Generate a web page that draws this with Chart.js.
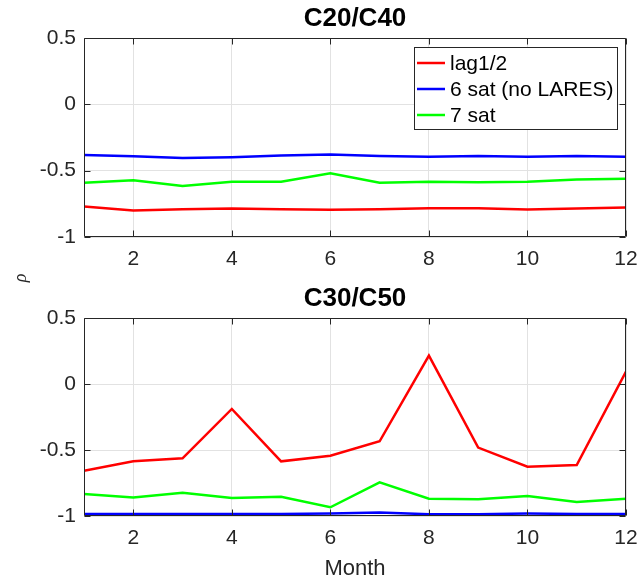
<!DOCTYPE html>
<html>
<head>
<meta charset="utf-8">
<script src="https://cdn.jsdelivr.net/npm/chart.js@4.4.0/dist/chart.umd.min.js"></script>
<style>
html,body{margin:0;padding:0;background:#ffffff;}
#wrap{position:relative;width:638px;height:582px;overflow:hidden;}
#box1{position:absolute;left:0;top:0;width:638px;height:280px;}
#box2{position:absolute;left:0;top:280px;width:638px;height:302px;}
#rho{position:absolute;left:10px;top:267px;width:20px;height:22px;line-height:22px;text-align:center;
  font-family:"Liberation Serif","Times New Roman",serif;font-style:italic;font-size:18px;color:#262626;
  transform:rotate(-90deg);}
</style>
</head>
<body>
<div id="wrap">
  <div id="box1"><canvas id="c1" width="638" height="280"></canvas></div>
  <div id="box2"><canvas id="c2" width="638" height="302"></canvas></div>
  <div id="rho">ρ</div>
</div>
<script>
// ---- data ----
const months = [1,2,3,4,5,6,7,8,9,10,11,12];
const xTicks = [2,4,6,8,10,12];
const yTicks = [-1,-0.5,0,0.5];
const seriesNames = ['lag1/2','6 sat (no LARES)','7 sat'];
const seriesColors = ['#ff0000','#0000ff','#00ff00'];
const titles = ['C20/C40','C30/C50'];
const xLabel = 'Month';
const yLabel = 'ρ';

const c20lag   = [-0.770,-0.800,-0.790,-0.785,-0.790,-0.795,-0.790,-0.783,-0.783,-0.793,-0.785,-0.778];
const c20six   = [-0.381,-0.391,-0.404,-0.399,-0.386,-0.379,-0.389,-0.396,-0.389,-0.396,-0.389,-0.396];
const c20seven = [-0.591,-0.573,-0.616,-0.583,-0.583,-0.520,-0.591,-0.583,-0.588,-0.583,-0.566,-0.561];

const c30lag   = [-0.657,-0.586,-0.563,-0.189,-0.586,-0.543,-0.434,0.215,-0.482,-0.626,-0.614,0.095];
const c30six   = [-0.985,-0.985,-0.984,-0.984,-0.984,-0.981,-0.973,-0.987,-0.986,-0.981,-0.984,-0.985];
const c30seven = [-0.833,-0.859,-0.823,-0.864,-0.854,-0.934,-0.745,-0.869,-0.874,-0.848,-0.894,-0.869];

// ---- styling ----
const FONT = '"Liberation Sans", Arial, Helvetica, sans-serif';
const AXC = '#262626';
const GRIDC = '#e2e2e2';

const boxPlugin = {
  id: 'boxPlugin',
  afterDatasetsDraw(chart) {
    const {ctx, chartArea: a, scales} = chart;
    ctx.save();
    ctx.strokeStyle = AXC;
    ctx.lineWidth = 1;
    const L = Math.round(a.left) + 0.5, R = Math.round(a.right) - 0.5;
    const T = Math.round(a.top) + 0.5, B = Math.round(a.bottom) - 0.5;
    ctx.beginPath();
    ctx.rect(L, T, R - L, B - T);
    const tl = 6;
    xTicks.forEach(v => {
      const px = Math.round(scales.x.getPixelForValue(v)) + 0.5;
      ctx.moveTo(px, B); ctx.lineTo(px, B - tl);
      ctx.moveTo(px, T); ctx.lineTo(px, T + tl);
    });
    yTicks.forEach(v => {
      const py = Math.round(scales.y.getPixelForValue(v)) + 0.5;
      ctx.moveTo(L, py); ctx.lineTo(L + tl, py);
      ctx.moveTo(R, py); ctx.lineTo(R - tl, py);
    });
    ctx.stroke();
    ctx.restore();
  }
};

const legendPlugin = {
  id: 'boxLegend',
  afterDraw(chart, args, opts) {
    if (!opts || !opts.show) return;
    const {ctx} = chart;
    const x0 = 414, y0 = 47, w = 203, h = 82;
    ctx.save();
    ctx.fillStyle = '#ffffff';
    ctx.fillRect(x0, y0, w, h);
    ctx.strokeStyle = AXC;
    ctx.lineWidth = 1;
    ctx.strokeRect(x0 + 0.5, y0 + 0.5, w, h);
    ctx.font = '21px ' + FONT;
    ctx.textBaseline = 'middle';
    ctx.textAlign = 'left';
    chart.data.datasets.forEach((ds, i) => {
      const yy = y0 + 16 + i * 26;
      ctx.strokeStyle = ds.borderColor;
      ctx.lineWidth = 2.5;
      ctx.beginPath();
      ctx.moveTo(x0 + 3, yy); ctx.lineTo(x0 + 31, yy);
      ctx.stroke();
      ctx.fillStyle = '#000000';
      ctx.fillText(ds.label, x0 + 36, yy + 1);
    });
    ctx.restore();
  }
};

function makeChart(id, title, series, axisHeight, showX, showLegend) {
  const datasets = series.map((vals, i) => ({
    label: seriesNames[i],
    data: months.map((m, j) => ({x: m, y: vals[j]})),
    borderColor: seriesColors[i],
    backgroundColor: seriesColors[i],
    borderWidth: 2.5,
    pointRadius: 0,
    tension: 0,
    fill: false,
    order: 3 - i
  }));
  return new Chart(document.getElementById(id), {
    type: 'line',
    data: {datasets},
    plugins: [boxPlugin, legendPlugin],
    options: {
      responsive: false,
      animation: false,
      devicePixelRatio: 1,
      layout: {padding: {left: 0, right: 0, top: 0, bottom: 0}},
      plugins: {
        legend: {display: false},
        tooltip: {enabled: false},
        boxLegend: {show: showLegend},
        title: {
          display: true, text: title, fullSize: false, color: '#000000',
          font: {family: FONT, size: 26, weight: 'bold', lineHeight: 1.2},
          padding: {top: 3, bottom: 3.8}
        }
      },
      scales: {
        x: {
          type: 'linear', min: 1, max: 12,
          afterBuildTicks: s => { s.ticks = xTicks.map(v => ({value: v})); },
          afterFit: s => { s.height = axisHeight; s.paddingLeft = 0; s.paddingRight = 12; },
          grid: {color: GRIDC, drawTicks: false, lineWidth: 1},
          border: {display: false},
          ticks: {color: AXC, font: {family: FONT, size: 21}, padding: 10, maxRotation: 0, autoSkip: false,
                  callback: v => String(v)},
          title: {display: showX, text: xLabel, color: AXC,
                  font: {family: FONT, size: 22, lineHeight: 1.2}, padding: {top: 0, bottom: 0}}
        },
        y: {
          type: 'linear', min: -1, max: 0.5,
          afterBuildTicks: s => { s.ticks = yTicks.map(v => ({value: v})); },
          afterFit: s => { s.width = 84; },
          grid: {color: GRIDC, drawTicks: false, lineWidth: 1},
          border: {display: false},
          ticks: {color: AXC, font: {family: FONT, size: 21}, padding: 8, callback: v => String(v)}
        }
      }
    }
  });
}

makeChart('c1', titles[0], [c20lag, c20six, c20seven], 43, false, true);
makeChart('c2', titles[1], [c30lag, c30six, c30seven], 66, true, false);
document.getElementById('rho').textContent = yLabel;
</script>
</body>
</html>
